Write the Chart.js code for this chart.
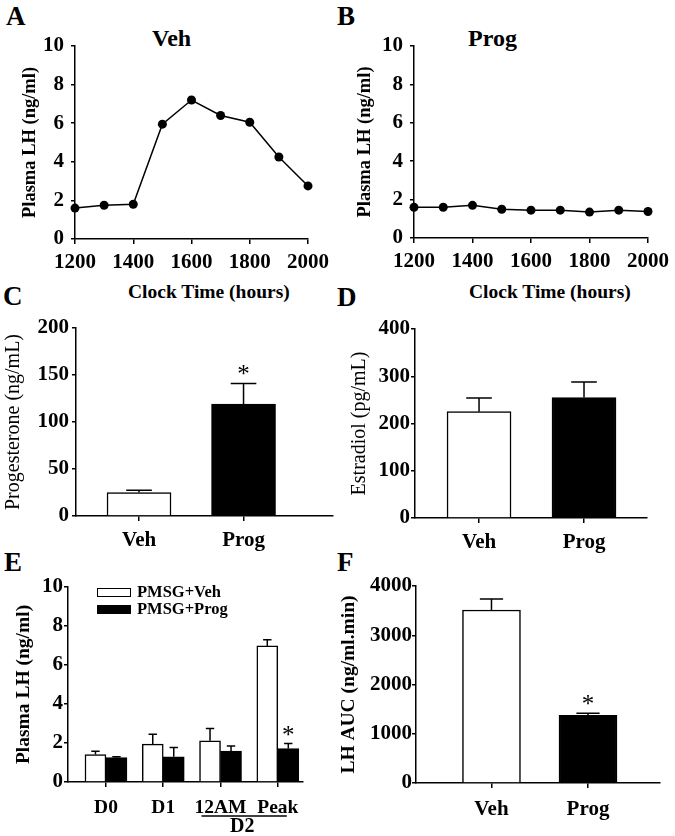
<!DOCTYPE html>
<html>
<head>
<meta charset="utf-8">
<script src="https://cdn.jsdelivr.net/npm/chart.js@4.4.0/dist/chart.umd.min.js"></script>
<style>
body { margin:0; background:#fff; width:675px; height:836px; position:relative; overflow:hidden;
       font-family:'Liberation Serif','Times New Roman',serif; font-weight:bold; color:#000; }
.box { position:absolute; }
.txt { position:absolute; line-height:1; white-space:nowrap; }
.letter { font-size:27px; }
.ttl { font-size:24px; }
.xt { font-size:19.5px; }
.leg { font-size:16.5px; display:flex; align-items:center; }
.leg span { display:inline-block; width:32px; height:7px; border:1.5px solid #000; margin-right:6px; }
</style>
</head>
<body>

<div class="txt letter" style="left:6px;top:3px">A</div>
<div class="txt letter" style="left:337px;top:3px">B</div>
<div class="txt letter" style="left:3px;top:283px">C</div>
<div class="txt letter" style="left:337px;top:284px">D</div>
<div class="txt letter" style="left:4px;top:549px">E</div>
<div class="txt letter" style="left:337px;top:549px">F</div>

<div class="txt ttl" style="left:152px;top:26px">Veh</div>
<div class="txt ttl" style="left:468px;top:26px">Prog</div>
<div class="txt xt" style="left:128px;top:282px">Clock Time (hours)</div>
<div class="txt xt" style="left:469px;top:282px">Clock Time (hours)</div>

<div class="box" style="left:0;top:0;width:335px;height:275px"><canvas id="cA"></canvas></div>
<div class="box" style="left:335px;top:0;width:340px;height:275px"><canvas id="cB"></canvas></div>
<div class="box" style="left:0;top:300px;width:340px;height:260px"><canvas id="cC"></canvas></div>
<div class="box" style="left:335px;top:300px;width:340px;height:260px"><canvas id="cD"></canvas></div>
<div class="box" style="left:0;top:565px;width:335px;height:271px"><canvas id="cE"></canvas></div>
<div class="box" style="left:335px;top:565px;width:340px;height:271px"><canvas id="cF"></canvas></div>

<div class="txt leg" style="left:97px;top:584px"><span style="background:#fff"></span>PMSG+Veh</div>
<div class="txt leg" style="left:97px;top:601px"><span style="background:#000"></span>PMSG+Prog</div>

<script>
// A / B: LH time course
const hours = [1200, 1300, 1400, 1500, 1600, 1700, 1800, 1900, 2000];
const lhVeh = [1.6, 1.75, 1.8, 5.95, 7.2, 6.4, 6.05, 4.25, 2.75];
const lhProg = [1.6, 1.6, 1.7, 1.5, 1.45, 1.45, 1.35, 1.45, 1.38];

// C / D / F: two groups
const groups = ['Veh', 'Prog'];
const progesterone = [25, 119];
const progesteroneErr = [2.5, 22];
const progesteroneSig = [false, true];
const estradiol = [225, 255];
const estradiolErr = [29, 33];
const lhAuc = [3513, 1374];
const lhAucErr = [223, 40];
const lhAucSig = [false, true];

// E: LH by day
const days = ['D0', 'D1', '12AM', 'Peak'];
const dayVeh = [1.41, 1.94, 2.11, 6.98];
const dayVehErr = [0.17, 0.51, 0.63, 0.31];
const dayProg = [1.25, 1.29, 1.58, 1.72];
const dayProgErr = [0.04, 0.48, 0.27, 0.25];
const dayProgSig = [false, false, false, true];

Chart.defaults.font.family = "'Liberation Serif','Times New Roman',serif";
Chart.defaults.font.weight = 'bold';
Chart.defaults.font.size = 21;
Chart.defaults.color = '#000';
Chart.defaults.animation = false;
Chart.defaults.plugins.legend.display = false;
Chart.defaults.plugins.tooltip.enabled = false;

// error bars (upper only), stars and the D2 bracket
const extras = {
  id: 'extras',
  afterDatasetsDraw(chart, args, opts) {
    const ctx = chart.ctx;
    const ys = chart.scales.y;
    ctx.save();
    ctx.strokeStyle = '#000';
    ctx.fillStyle = '#000';
    ctx.lineWidth = 1.5;
    (opts.errors || []).forEach((errs, di) => {
      const meta = chart.getDatasetMeta(di);
      meta.data.forEach((bar, i) => {
        const v = chart.data.datasets[di].data[i].y;
        const top = ys.getPixelForValue(v + errs[i]);
        const half = bar.width * 0.2;
        ctx.beginPath();
        ctx.moveTo(bar.x, ys.getPixelForValue(v));
        ctx.lineTo(bar.x, top);
        ctx.moveTo(bar.x - half, top);
        ctx.lineTo(bar.x + half, top);
        ctx.stroke();
        const sig = opts.stars && opts.stars[di];
        if (sig && sig[i]) {
          ctx.font = "normal 25px 'Liberation Serif'";
          ctx.textAlign = 'center';
          ctx.textBaseline = 'alphabetic';
          ctx.fillText('*', bar.x, top - 1);
        }
      });
    });
    if (opts.bracket) {
      const xs = chart.scales.x;
      const b = opts.bracket;
      const x1 = xs.getPixelForValue(b.from) - 19;
      const x2 = xs.getPixelForValue(b.to) + 9;
      const y = xs.top + 34;
      ctx.beginPath();
      ctx.moveTo(x1, y);
      ctx.lineTo(x2, y);
      ctx.stroke();
      ctx.font = "bold 20px 'Liberation Serif'";
      ctx.textAlign = 'center';
      ctx.textBaseline = 'top';
      ctx.fillText(b.text, (x1 + x2) / 2 - 2, y + 1);
    }
    ctx.restore();
  }
};
Chart.register(extras);

function yAxis(o) {
  return {
    min: o.min, max: o.max,
    afterFit: s => { s.width = o.width; },
    border: { color: '#000', width: 1.5 },
    grid: { drawOnChartArea: false, color: '#000', lineWidth: 1.5, tickLength: 4 },
    ticks: { stepSize: o.step, padding: o.pad, callback: v => v },
    title: { display: true, text: o.title, font: { size: o.tsize || 18.5, weight: o.weight || 'bold' },
             padding: { top: o.tpad, bottom: 0 } }
  };
}

function xAxis(o) {
  return {
    type: 'linear', min: o.min, max: o.max, offset: false,
    afterFit: s => { s.height = o.height; },
    border: { color: '#000', width: 1.5 },
    grid: { offset: false, drawOnChartArea: false, color: '#000', lineWidth: 1.5, tickLength: 5 },
    ticks: { stepSize: o.step, includeBounds: false, autoSkip: false, maxRotation: 0, padding: o.pad,
             font: { size: o.fsize || 21 },
             callback: o.labels ? (v => o.labels[v] ?? '') : (v => v) }
  };
}

function lineSet(vals) {
  return {
    data: hours.map((h, i) => ({ x: h, y: vals[i] })),
    borderColor: '#000', borderWidth: 1.5, backgroundColor: '#000',
    pointRadius: 4.5, pointBorderWidth: 0, pointBackgroundColor: '#000', clip: false
  };
}

function barSet(vals, fill, thick) {
  return {
    data: vals.map((v, i) => ({ x: i, y: v })),
    backgroundColor: fill, borderColor: '#000', borderWidth: 1.5, barThickness: thick
  };
}

new Chart(document.getElementById('cA'), {
  type: 'line',
  data: { datasets: [lineSet(lhVeh)] },
  options: {
    responsive: true, maintainAspectRatio: false,
    layout: { padding: { top: 46, right: 24, left: 0, bottom: 0 } },
    scales: {
      x: xAxis({ min: 1200, max: 2000, step: 200, height: 36, pad: 6 }),
      y: yAxis({ min: 0, max: 10, step: 2, width: 75, pad: 7, title: 'Plasma LH (ng/ml)', tpad: 19 })
    }
  }
});

new Chart(document.getElementById('cB'), {
  type: 'line',
  data: { datasets: [lineSet(lhProg)] },
  options: {
    responsive: true, maintainAspectRatio: false,
    layout: { padding: { top: 46, right: 23, left: 0, bottom: 0 } },
    scales: {
      x: xAxis({ min: 1200, max: 2000, step: 200, height: 37, pad: 6 }),
      y: yAxis({ min: 0, max: 10, step: 2, width: 79, pad: 7, title: 'Plasma LH (ng/ml)', tpad: 19 })
    }
  }
});

new Chart(document.getElementById('cC'), {
  type: 'bar',
  data: { datasets: [barSet(progesterone, ['#fff', '#000'], 64)] },
  options: {
    responsive: true, maintainAspectRatio: false,
    layout: { padding: { top: 28, right: 7, left: 0, bottom: 0 } },
    scales: {
      x: xAxis({ min: -0.603, max: 1.856, step: 1, height: 44, pad: 7, labels: groups }),
      y: yAxis({ min: 0, max: 200, step: 50, width: 76, pad: 3, title: 'Progesterone (ng/mL)',
                 tpad: 2, weight: 'normal', tsize: 20 })
    },
    plugins: { extras: { errors: [progesteroneErr], stars: [progesteroneSig] } }
  }
});

new Chart(document.getElementById('cD'), {
  type: 'bar',
  data: { datasets: [barSet(estradiol, ['#fff', '#000'], 64)] },
  options: {
    responsive: true, maintainAspectRatio: false,
    layout: { padding: { top: 29, right: 28, left: 0, bottom: 0 } },
    scales: {
      x: xAxis({ min: -0.61, max: 1.6, step: 1, height: 42, pad: 7, labels: groups }),
      y: yAxis({ min: 0, max: 400, step: 100, width: 80, pad: 1, title: 'Estradiol (pg/mL)',
                 tpad: 13, weight: 'normal', tsize: 20 })
    },
    plugins: { extras: { errors: [estradiolErr] } }
  }
});

new Chart(document.getElementById('cE'), {
  type: 'bar',
  data: { datasets: [barSet(dayVeh, '#fff', 21), barSet(dayProg, '#000', 21)] },
  options: {
    responsive: true, maintainAspectRatio: false,
    layout: { padding: { top: 22, right: 32, left: 0, bottom: 0 } },
    scales: {
      x: xAxis({ min: -0.663, max: 3.44, step: 1, height: 54, pad: 9, labels: days, fsize: 19.5 }),
      y: yAxis({ min: 0, max: 10, step: 2, width: 68, pad: 1, title: 'Plasma LH (ng/ml)', tpad: 12, tsize: 19.5 })
    },
    plugins: { extras: { errors: [dayVehErr, dayProgErr], stars: [null, dayProgSig],
                         bracket: { from: 2, to: 3, text: 'D2' } } }
  }
});

new Chart(document.getElementById('cF'), {
  type: 'bar',
  data: { datasets: [barSet(lhAuc, ['#fff', '#000'], 58)] },
  options: {
    responsive: true, maintainAspectRatio: false,
    layout: { padding: { top: 21, right: 15, left: 0, bottom: 0 } },
    scales: {
      x: xAxis({ min: -0.782, max: 1.746, step: 1, height: 53, pad: 9, labels: groups }),
      y: yAxis({ min: 0, max: 4000, step: 1000, width: 81, pad: 0, title: 'LH AUC (ng/ml.min)', tpad: 2, tsize: 19.5 })
    },
    plugins: { extras: { errors: [lhAucErr], stars: [lhAucSig] } }
  }
});
</script>
</body>
</html>
